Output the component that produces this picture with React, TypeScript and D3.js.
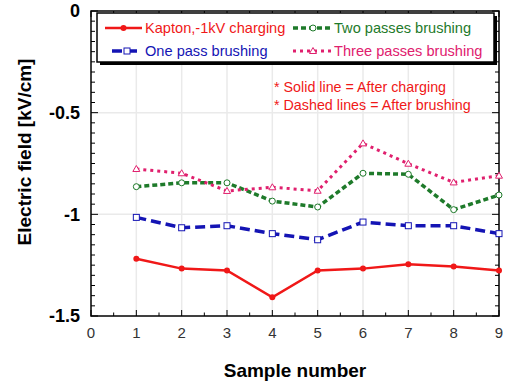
import React from "react";
import * as d3 from "d3";

const samples = [1, 2, 3, 4, 5, 6, 7, 8, 9];
const kapton = [-1.218, -1.267, -1.276, -1.408, -1.276, -1.267, -1.246, -1.256, -1.276];
const onePass = [-1.015, -1.066, -1.056, -1.095, -1.125, -1.038, -1.056, -1.056, -1.095];
const twoPass = [-0.864, -0.845, -0.845, -0.935, -0.964, -0.798, -0.803, -0.977, -0.905];
const threePass = [-0.777, -0.798, -0.885, -0.867, -0.884, -0.651, -0.751, -0.843, -0.81];
const xTicks = [0, 1, 2, 3, 4, 5, 6, 7, 8, 9];
const yTicks = [0, -0.5, -1, -1.5];

type Series = { name: string; values: number[]; color: string; dash: string; width: number; marker: string };
const series: Series[] = [
  { name: "Kapton,-1kV charging", values: kapton, color: "#f01818", dash: "", width: 2.5, marker: "dot" },
  { name: "One pass brushing", values: onePass, color: "#1414b4", dash: "10,5", width: 3.5, marker: "square" },
  { name: "Two passes brushing", values: twoPass, color: "#1e7a2a", dash: "5,3", width: 3.5, marker: "circle" },
  { name: "Three passes brushing", values: threePass, color: "#e0206e", dash: "3,4", width: 3, marker: "triangle" },
];

const W = 507, H = 383;
const L = 91, R = 499, T = 11, B = 316;
const font = "Liberation Sans, Arial, sans-serif";

function Marker({ kind, x, y, color }: { kind: string; x: number; y: number; color: string }) {
  if (kind === "dot") return <circle cx={x} cy={y} r={3} fill={color} />;
  if (kind === "square") return <rect x={x - 3} y={y - 3} width={6} height={6} fill="white" stroke={color} strokeWidth={1} />;
  if (kind === "circle") return <circle cx={x} cy={y} r={3} fill="white" stroke={color} strokeWidth={1} />;
  return <path d={`M${x},${y - 3.5}L${x + 3.5},${y + 2.5}L${x - 3.5},${y + 2.5}Z`} fill="white" stroke={color} strokeWidth={1} />;
}

export default function App() {
  const x = d3.scaleLinear().domain([0, 9]).range([L, R]);
  const y = d3.scaleLinear().domain([-1.5, 0]).range([B, T]);
  const line = d3.line<number>().x((_, i) => x(samples[i])).y((d) => y(d));
  const minorY = d3.range(0, 31).map((i) => -i * 0.05);
  const minorX = d3.range(0, 19).map((i) => i * 0.5);

  const legendItems = [
    { s: series[0], lx: 105, ly: 28 },
    { s: series[2], lx: 293, ly: 28 },
    { s: series[1], lx: 112, ly: 51 },
    { s: series[3], lx: 293, ly: 51 },
  ];

  return (
    <svg width={W} height={H} style={{ position: "absolute", left: 0, top: 0, background: "white" }}>
      <rect width={W} height={H} fill="white" />
      {/* grid */}
      {samples.slice(0, 8).map((v) => (
        <line key={"gx" + v} x1={x(v)} x2={x(v)} y1={T} y2={B} stroke="#eaeaea" strokeWidth={1.5} />
      ))}
      {[-0.5, -1].map((v) => (
        <line key={"gy" + v} x1={L} x2={R} y1={y(v)} y2={y(v)} stroke="#eaeaea" strokeWidth={1.5} />
      ))}
      {/* ticks */}
      {minorY.map((v, i) => {
        const len = i % 10 === 0 ? 7 : 4;
        return (
          <g key={"ty" + i}>
            <line x1={L} x2={L + len} y1={y(v)} y2={y(v)} stroke="black" strokeWidth={1} />
            <line x1={R} x2={R - len} y1={y(v)} y2={y(v)} stroke="black" strokeWidth={1} />
          </g>
        );
      })}
      {minorX.map((v, i) => {
        const len = i % 2 === 0 ? 6 : 3.5;
        return (
          <g key={"tx" + i}>
            <line x1={x(v)} x2={x(v)} y1={B} y2={B - len} stroke="black" strokeWidth={1} />
            <line x1={x(v)} x2={x(v)} y1={T} y2={T + len} stroke="black" strokeWidth={1} />
          </g>
        );
      })}
      <rect x={L} y={T} width={R - L} height={B - T} fill="none" stroke="black" strokeWidth={1.5} />
      {/* legend */}
      <rect x={100} y={16} width={397} height={49} fill="black" />
      <rect x={97} y={13} width={397} height={49} fill="white" stroke="black" strokeWidth={1.5} />
      {legendItems.map(({ s, lx, ly }) => (
        <g key={s.name}>
          <line x1={lx} x2={142 + (lx > 200 ? 191 : 0)} y1={ly} y2={ly} stroke={s.color} strokeWidth={s.width} strokeDasharray={s.dash} />
          <Marker kind={s.marker} x={(lx + 142 + (lx > 200 ? 191 : 0)) / 2} y={ly} color={s.color} />
          <text x={lx > 200 ? 334 : 145} y={ly} dy="0.35em" fontFamily={font} fontSize={14.6} fill={s.color}>{s.name}</text>
        </g>
      ))}
      {/* annotation */}
      <text x={274} y={87} dy="0.35em" fontFamily={font} fontSize={14.3} fill="#f01818">* Solid line = After charging</text>
      <text x={274} y={105} dy="0.35em" fontFamily={font} fontSize={14.3} fill="#f01818">* Dashed lines = After brushing</text>
      {/* series */}
      {series.map((s) => (
        <g key={"s" + s.name}>
          <path d={line(s.values) || ""} fill="none" stroke={s.color} strokeWidth={s.width} strokeDasharray={s.dash} />
          {s.values.map((v, i) => (
            <Marker key={i} kind={s.marker} x={x(samples[i])} y={y(v)} color={s.color} />
          ))}
        </g>
      ))}
      {/* axis labels */}
      {yTicks.map((v) => (
        <text key={"yl" + v} x={80} y={y(v)} dy="0.35em" textAnchor="end" fontFamily={font} fontSize={18} fontWeight="bold" fill="black">{v}</text>
      ))}
      {xTicks.map((v) => (
        <text key={"xl" + v} x={x(v)} y={333} dy="0.35em" textAnchor="middle" fontFamily={font} fontSize={15} fill="#333">{v}</text>
      ))}
      <text x={295} y={370} dy="0.35em" textAnchor="middle" fontFamily={font} fontSize={19} fontWeight="bold" fill="black">Sample number</text>
      <text transform="translate(24,152) rotate(-90)" dy="0.35em" textAnchor="middle" fontFamily={font} fontSize={19} fontWeight="bold" fill="black">Electric field [kV/cm]</text>
    </svg>
  );
}
